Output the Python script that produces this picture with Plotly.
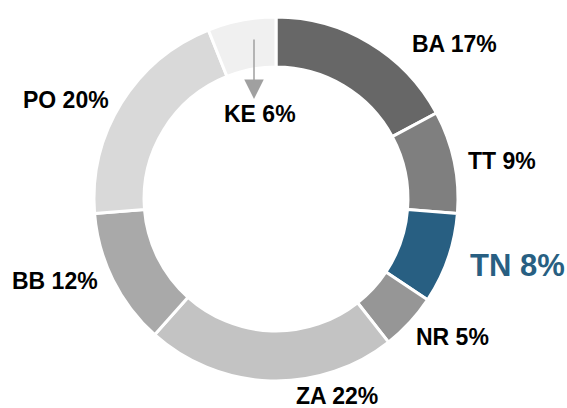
import plotly.graph_objects as go

W, H = 567, 408

# data
labels = ['BA', 'TT', 'TN', 'NR', 'ZA', 'BB', 'PO', 'KE']
values = [17, 9, 8, 5, 22, 12, 20, 6]
colors = ['#676767', '#7f7f7f', '#285f82', '#969696', '#c3c3c3', '#a9a9a9', '#d9d9d9', '#f0f0f0']

# hand placed label centres (px from top-left), as in the original slide
label_pos = {
    'BA': (454, 44), 'TT': (502, 161), 'TN': (517, 265), 'NR': (452, 337),
    'ZA': (337, 396), 'BB': (55, 281), 'PO': (66, 100), 'KE': (260, 114),
}

cx, cy, r = 276, 199, 182

fig = go.Figure()

fig.add_trace(go.Pie(
    labels=labels,
    values=values,
    hole=0.725,
    sort=False,
    direction='clockwise',
    rotation=0,
    textinfo='none',
    hoverinfo='label+percent',
    marker=dict(colors=colors, line=dict(color='white', width=3)),
    domain=dict(x=[(cx - r) / W, (cx + r) / W], y=[(H - cy - r) / H, (H - cy + r) / H]),
    showlegend=False,
))

for lab, val in zip(labels, values):
    px_, py_ = label_pos[lab]
    highlight = lab == 'TN'
    fig.add_annotation(
        x=px_ / W, y=1 - py_ / H, xref='paper', yref='paper',
        text=f'{lab} {val}%',
        showarrow=False,
        xanchor='center', yanchor='middle',
        font=dict(family='Liberation Sans, Arial', size=31 if highlight else 23,
                  color='#285f82' if highlight else 'black'),
    )

# arrow from the small KE slice down to its label
fig.add_annotation(
    x=254 / W, y=1 - 99 / H, xref='paper', yref='paper',
    ax=0, ay=-61, text='',
    showarrow=True, arrowhead=2, arrowsize=2.6, arrowwidth=1.5,
    arrowcolor='#a0a0a0', standoff=0,
)

fig.update_layout(
    width=W, height=H,
    margin=dict(l=0, r=0, t=0, b=0),
    paper_bgcolor='white',
    plot_bgcolor='white',
    font=dict(family='Liberation Sans, Arial', weight='bold'),
)

# drop the default page margin so the figure sits at the window's corner
fig.write_html('out.html', config={'displayModeBar': False},
               post_script="document.body.style.margin='0';")
